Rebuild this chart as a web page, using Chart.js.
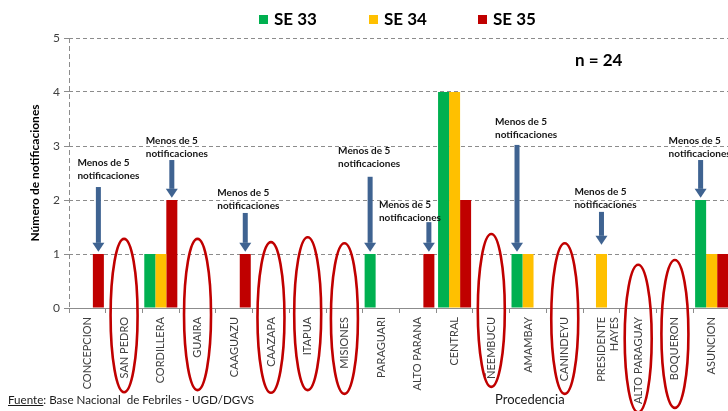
<!DOCTYPE html>
<html><head><meta charset="utf-8">
<script src="https://cdn.jsdelivr.net/npm/chart.js@4/dist/chart.umd.min.js"></script>
<style>
html,body{margin:0;padding:0;background:#fff;overflow:hidden;width:728px;height:411px;}
#wrap{position:relative;width:728px;height:411px;overflow:hidden;}
canvas{position:absolute;left:0;top:0;}
.foot{position:absolute;font-family:Lato,sans-serif;color:#1a1a1a;white-space:nowrap;}
</style></head><body>
<div id="wrap"><canvas id="c" width="730" height="411" style="width:730px;height:411px;"></canvas>
<div class="foot" style="left:8px;top:393px;font-size:11.6px;"><u>Fuente</u>: Base Nacional&nbsp; de Febriles - UGD/DGVS</div>
<div class="foot" style="left:495px;top:391px;font-size:13px;">Procedencia</div>
</div>
<script>
// ---- data ----
const categories = ['CONCEPCION','SAN PEDRO','CORDILLERA','GUAIRA','CAAGUAZU','CAAZAPA','ITAPUA','MISIONES','PARAGUARI','ALTO PARANA','CENTRAL','ÑEEMBUCU','AMAMBAY','CANINDEYU',['PRESIDENTE','HAYES'],'ALTO PARAGUAY','BOQUERON','ASUNCION'];
const seriesNames = ['SE 33','SE 34','SE 35'];
const se33 = [null,null,1,null,null,null,null,null,1,null,4,null,1,null,null,null,null,2];
const se34 = [null,null,1,null,null,null,null,null,null,null,4,null,1,null,1,null,null,1];
const se35 = [1,null,2,null,1,null,null,null,null,1,2,null,null,null,null,null,null,1];
const yTicks = [0,1,2,3,4,5];
const totalText = 'n = 24';
const noteText = ['Menos de 5','notificaciones'];
// annotated bars: category index and series index
const noteCategory = [0,2,4,8,9,12,14,17];
const noteSeries   = [2,2,2,0,2,0,1,0];
// circled (no-data) categories
const circledCategory = [1,3,5,6,7,11,13,15,16];

// ---- layout / style (not data) ----
const colors = ['#00B050','#FFC000','#C00000'];
const noteTextDx   = [-21,-26,-28,-32,-50,-22,-27,-32];
const noteTextY    = [2.69,3.09,2.13,2.91,1.91,3.44,2.15,3.09];
const noteArrowTop = [2.24,2.74,1.76,2.43,1.59,3.02,1.78,2.74];
const noteArrowTip = [1.04,2.04,1.04,1.04,1.04,1.04,1.17,2.04];
const circleTop    = [1.28,1.28,1.22,1.31,1.20,1.37,1.20,0.80,0.89];
const circleBottom = [-1.56,-1.52,-1.57,-1.52,-1.59,-1.46,-1.59,-1.93,-1.85];
const legendX = [259,369,478];

const overlay = {
  id:'overlay',
  beforeDatasetsDraw(chart){
    const {ctx, chartArea:a} = chart;
    ctx.save();
    ctx.strokeStyle='#8c8c8c'; ctx.lineWidth=1; ctx.setLineDash([5,3]);
    ctx.beginPath(); ctx.moveTo(a.left+0.5,a.top); ctx.lineTo(a.left+0.5,a.bottom); ctx.stroke();
    ctx.restore();
  },
  afterDatasetsDraw(chart){
    const {ctx, scales:{x,y}} = chart;
    ctx.save();
    // circles
    ctx.strokeStyle='#C00000'; ctx.lineWidth=2.6;
    circledCategory.forEach((ci,i)=>{
      const cx = x.getPixelForValue(ci);
      const t = y.getPixelForValue(circleTop[i]), b = y.getPixelForValue(circleBottom[i]);
      ctx.beginPath(); ctx.ellipse(cx,(t+b)/2,13.5,(b-t)/2,0,0,Math.PI*2); ctx.stroke();
    });
    // arrows + notes
    noteCategory.forEach((ci,k)=>{
      const bar = chart.getDatasetMeta(noteSeries[k]).data[ci];
      const ax = bar.x;
      const top = y.getPixelForValue(noteArrowTop[k]);
      const tip = y.getPixelForValue(noteArrowTip[k]);
      ctx.fillStyle='#3F6391';
      ctx.fillRect(ax-2.5, top, 5, tip-9-top);
      ctx.beginPath(); ctx.moveTo(ax-6,tip-9); ctx.lineTo(ax+6,tip-9); ctx.lineTo(ax,tip); ctx.closePath(); ctx.fill();
      ctx.fillStyle='#151515';
      ctx.font='bold 10px Lato'; ctx.textAlign='left'; ctx.textBaseline='middle';
      const ty = y.getPixelForValue(noteTextY[k]);
      ctx.fillText(noteText[0], ax+noteTextDx[k], ty);
      ctx.fillText(noteText[1], ax+noteTextDx[k], ty+13);
    });
    // n =
    ctx.fillStyle='#000'; ctx.font='bold 17px Lato'; ctx.textAlign='left'; ctx.textBaseline='middle';
    ctx.fillText(totalText, 575, 61);
    // legend
    chart.data.datasets.forEach((ds,i)=>{
      ctx.fillStyle=ds.backgroundColor;
      ctx.fillRect(legendX[i],15,9,9);
      ctx.fillStyle='#000'; ctx.font='bold 17px Lato';
      ctx.fillText(ds.label, legendX[i]+15, 20);
    });
    ctx.restore();
  }
};

new Chart(document.getElementById('c'), {
  type:'bar',
  data:{
    labels:categories,
    datasets:[
      {label:seriesNames[0], data:se33, backgroundColor:colors[0]},
      {label:seriesNames[1], data:se34, backgroundColor:colors[1]},
      {label:seriesNames[2], data:se35, backgroundColor:colors[2]}
    ]
  },
  options:{
    responsive:false, animation:false,
    layout:{padding:{top:38,left:0,right:0,bottom:0}},
    datasets:{bar:{categoryPercentage:0.9,barPercentage:1.0,borderWidth:0}},
    plugins:{legend:{display:false},tooltip:{enabled:false}},
    scales:{
      x:{
        offset:true,
        grid:{offset:true,drawOnChartArea:false,drawTicks:true,tickLength:5,color:'#8c8c8c'},
        border:{display:true,color:'#8c8c8c',width:1},
        ticks:{autoSkip:false,maxRotation:90,minRotation:90,padding:4,color:'#404040',font:{family:'Lato',size:11}},
        afterFit(s){s.height=103;}
      },
      y:{
        min:0,max:5,
        afterBuildTicks(s){s.ticks=yTicks.map(v=>({value:v}));},
        ticks:{color:'#404040',font:{family:'Lato',size:12},padding:4},
        grid:{color:'#8c8c8c',lineWidth:1,tickLength:5,drawTicks:true},
        border:{display:false,dash:[4,3]},
        title:{display:true,text:'Número de notificaciones',color:'#000',font:{family:'Lato',size:12,weight:'bold'},padding:{top:28,bottom:0}},
        afterFit(s){s.width=69;}
      }
    }
  },
  plugins:[overlay]
});
</script>
</body></html>
